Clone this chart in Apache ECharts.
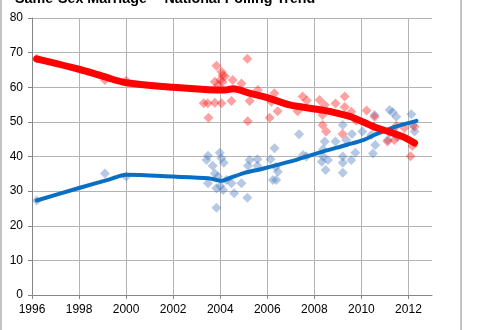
<!DOCTYPE html>
<html>
<head>
<meta charset="utf-8">
<script src="https://cdn.jsdelivr.net/npm/echarts@6/dist/echarts.min.js"></script>
<style>
  html, body { margin: 0; padding: 0; background: #fff; }
  #chart { width: 480px; height: 330px; }
</style>
</head>
<body>
<div id="chart"></div>
<script>
// Year tick labels on the horizontal axis
const yearTicks = [1996, 1998, 2000, 2002, 2004, 2006, 2008, 2010, 2012];

// Individual polls: [year, percent]
const opposePolls = [
  [1996.2, 68.2], [1999.1, 62.1], [2000.0, 61.9],
  [2005.15, 68.2], [2003.84, 66.2], [2004.05, 64.5], [2004.1, 63.5], [2004.2, 63.2],
  [2003.77, 61.6], [2004.0, 62.1], [2004.1, 61.5], [2004.53, 62.1], [2004.9, 61.1],
  [2003.9, 60.6], [2003.47, 55.4], [2003.3, 55.4], [2003.77, 55.5], [2004.05, 55.4],
  [2004.48, 56.0], [2003.5, 51.2], [2005.17, 50.2], [2005.6, 59.2], [2005.25, 56.0],
  [2006.3, 58.3], [2006.44, 53.1], [2006.1, 51.2], [2006.17, 55.8], [2007.29, 53.1],
  [2007.5, 57.3], [2007.68, 56.2], [2008.22, 56.3], [2008.44, 54.9], [2008.35, 52.0],
  [2008.35, 49.1], [2008.5, 47.2], [2008.9, 55.3], [2009.29, 57.3], [2009.29, 54.3],
  [2009.57, 52.9], [2009.2, 46.5], [2009.78, 50.3], [2010.22, 53.3], [2010.56, 51.5],
  [2010.52, 48.6], [2011.2, 46.9], [2011.48, 48.8], [2011.11, 44.3], [2011.4, 44.8],
  [2011.83, 48.2], [2012.26, 48.6], [2012.17, 43.0], [2012.09, 40.1]
];

const supportPolls = [
  [1996.2, 27.3], [1999.1, 35.1], [2000.0, 34.2],
  [2003.48, 40.2], [2003.42, 39.0], [2003.98, 41.1], [2004.05, 39.5], [2004.15, 38.2],
  [2003.68, 37.3], [2003.77, 35.1], [2003.9, 34.2], [2003.48, 32.3], [2003.84, 30.8],
  [2004.0, 31.5], [2004.12, 30.3], [2004.26, 33.2], [2004.48, 32.3], [2004.59, 29.4],
  [2004.9, 32.3], [2005.15, 28.1], [2003.84, 25.2], [2005.25, 39.0], [2005.18, 37.3],
  [2005.58, 39.2], [2005.58, 37.3], [2006.14, 39.2], [2006.31, 42.4], [2006.36, 37.0],
  [2006.45, 35.6], [2006.24, 33.2], [2006.38, 33.2], [2007.35, 46.4], [2007.52, 40.4],
  [2007.66, 40.0], [2008.44, 44.3], [2008.37, 42.1], [2008.37, 40.0], [2008.58, 39.0],
  [2008.32, 38.5], [2008.48, 36.1], [2008.9, 44.3], [2009.21, 49.1], [2009.36, 44.8],
  [2009.6, 46.5], [2009.21, 40.0], [2009.57, 39.0], [2009.21, 38.2], [2009.21, 35.3],
  [2009.74, 41.1], [2010.04, 47.2], [2010.56, 52.0], [2011.2, 53.4], [2011.33, 52.8],
  [2011.48, 51.5], [2012.12, 52.2], [2012.19, 49.1], [2012.26, 47.2], [2010.42, 46.2],
  [2010.59, 43.3], [2010.49, 40.9], [2011.12, 44.8], [2011.53, 45.6], [2011.33, 47.6]
];

// Smoothed trend lines: [year, percent]
const opposeTrend = [
  [1996.2, 68.2], [1998, 65.2], [1999, 63.2], [2000, 61.3], [2002, 60.0],
  [2003.5, 59.3], [2004.2, 59.2], [2004.55, 59.6], [2005.2, 58.4], [2006.0, 57.0],
  [2006.95, 54.9], [2008.35, 53.4], [2009.5, 51.6], [2010.13, 49.8], [2010.6, 48.4],
  [2011.2, 47.1], [2011.8, 45.6], [2012.26, 43.9]
];

const supportTrend = [
  [1996.2, 27.3], [1998, 30.9], [1999.3, 33.4], [2000, 34.7], [2002, 34.2],
  [2003.5, 33.7], [2004.06, 33.0], [2004.3, 33.5], [2005.0, 35.2], [2005.76, 36.4],
  [2006.95, 38.5], [2008.35, 41.4], [2009.4, 43.4], [2010.13, 44.9], [2010.6, 46.4],
  [2011.4, 48.5], [2012.34, 50.3]
];

const FONT = '"Liberation Sans", Arial, sans-serif';
const chart = echarts.init(document.getElementById('chart'), null, { renderer: 'canvas' });

chart.setOption({
  animation: false,
  backgroundColor: '#ffffff',
  title: {
    text: 'Same-Sex Marriage -- National Polling Trend',
    left: 15,
    top: -8,
    padding: 0,
    textStyle: { fontFamily: FONT, fontSize: 14.3, fontWeight: 'bold', color: '#000' }
  },
  graphic: [{
    type: 'rect',
    shape: { x: 1, y: -5, width: 460, height: 345 },
    style: { fill: 'none', stroke: '#868686', lineWidth: 1 },
    silent: true
  }],
  grid: { left: 32, top: 18, right: 48, bottom: 35, containLabel: false },
  xAxis: {
    type: 'value',
    min: 1996,
    max: 2013,
    interval: 2,
    axisLine: { show: true, onZero: false, lineStyle: { color: '#868686', width: 1 } },
    axisTick: { show: true, length: 4, customValues: yearTicks, lineStyle: { color: '#868686' } },
    axisLabel: {
      customValues: yearTicks,
      formatter: (v) => String(v),
      margin: 9,
      fontFamily: FONT, fontSize: 12, color: '#000'
    },
    splitLine: { show: true, lineStyle: { color: '#b3b3b3', width: 1 } }
  },
  yAxis: {
    type: 'value',
    min: 0,
    max: 80,
    interval: 10,
    axisLine: { show: true, lineStyle: { color: '#868686', width: 1 } },
    axisTick: { show: true, length: 4, lineStyle: { color: '#868686' } },
    axisLabel: { margin: 9, fontFamily: FONT, fontSize: 12, color: '#000' },
    splitLine: { show: true, lineStyle: { color: '#b3b3b3', width: 1 } }
  },
  series: [
    {
      name: 'Support',
      type: 'scatter',
      data: supportPolls,
      symbol: 'diamond',
      symbolSize: 10,
      itemStyle: { color: 'rgba(70,120,190,0.5)' },
      z: 2
    },
    {
      name: 'Oppose',
      type: 'scatter',
      data: opposePolls,
      symbol: 'diamond',
      symbolSize: 10,
      itemStyle: { color: 'rgba(255,20,20,0.5)' },
      z: 2
    },
    {
      name: 'Support trend',
      type: 'line',
      data: supportTrend,
      smooth: 0.3,
      showSymbol: false,
      lineStyle: { color: '#0a6fc2', width: 4, cap: 'round', join: 'round' },
      z: 3
    },
    {
      name: 'Oppose trend',
      type: 'line',
      data: opposeTrend,
      smooth: 0.3,
      showSymbol: false,
      lineStyle: { color: '#ff0000', width: 7, cap: 'round', join: 'round' },
      z: 4
    }
  ]
});
</script>
</body>
</html>
